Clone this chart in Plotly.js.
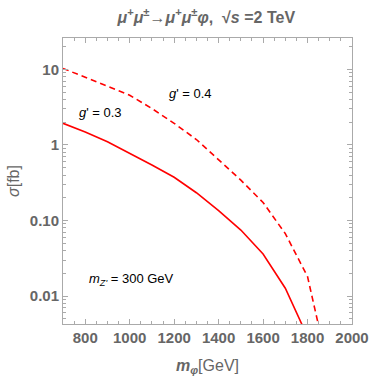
<!DOCTYPE html>
<html>
<head>
<meta charset="utf-8">
<script src="https://cdn.plot.ly/plotly-3.0.1.min.js"></script>
<style>
  html, body { margin: 0; padding: 0; background: #fff; }
  #chart { width: 382px; height: 377px; }
</style>
</head>
<body>
<div id="chart"></div>
<script>
// m_phi in GeV, sigma in fb
const massGeV = [700, 800, 900, 1000, 1100, 1200, 1300, 1400, 1500, 1600, 1700, 1800];
const sigmaG03 = [1.93, 1.48, 1.10, 0.774, 0.542, 0.373, 0.233, 0.135, 0.0748, 0.036, 0.0127, 0.0029];
const massDashed = [700, 800, 900, 1000, 1100, 1200, 1300, 1400, 1500, 1600, 1700, 1800, 1900];
const sigmaG04 = [10.3, 7.9, 6.07, 4.55, 3.03, 1.93, 1.18, 0.64, 0.342, 0.173, 0.067, 0.0181, 0.0009];

const yTickVals = [10, 1, 0.1, 0.01];
const yTickText = ['10', '1', '0.10', '0.01'];

// minor log ticks: 2..9 in every decade
const yMinorVals = [];
[0.001, 0.01, 0.1, 1, 10].forEach(function (d) {
    for (let k = 2; k <= 9; k++) yMinorVals.push(d * k);
});

const gray = '#666';
const axisGray = '#aaa';
const fontFam = 'Liberation Sans, Arial, sans-serif';

const traceG03 = {
    x: massGeV,
    y: sigmaG03,
    type: 'scatter',
    mode: 'lines',
    line: { color: '#ff0000', width: 1.6 },
    showlegend: false
};

const traceG04 = {
    x: massDashed,
    y: sigmaG04,
    type: 'scatter',
    mode: 'lines',
    line: { color: '#ff0000', width: 1.6, dash: '6px,4px' },
    showlegend: false
};

const layout = {
    width: 382,
    height: 377,
    margin: { l: 63, r: 30, t: 38, b: 53 },
    paper_bgcolor: '#fff',
    plot_bgcolor: '#fff',
    font: { family: fontFam, color: gray },
    title: {
        text: '<b><i>μ</i><sup>+</sup><i>μ</i><sup>±</sup>→<i>μ</i><sup>+</sup><i>μ</i><sup>±</sup><i>φ</i>,  √<i>s</i> =2 TeV</b>',
        font: { size: 16, color: gray },
        x: 0.54, xanchor: 'center',
        y: 0.955, yanchor: 'middle'
    },
    xaxis: {
        range: [700, 2000],
        tickvals: [800, 1000, 1200, 1400, 1600, 1800, 2000],
        ticks: 'inside', ticklen: 5, tickcolor: axisGray,
        minor: { tickmode: 'linear', tick0: 700, dtick: 50, ticks: 'inside', ticklen: 3, tickcolor: axisGray, showgrid: false },
        showline: true, linecolor: axisGray, linewidth: 1, mirror: 'ticks',
        showgrid: false, zeroline: false,
        tickfont: { size: 15, color: gray, family: fontFam, weight: 'bold' },
        title: { text: '<b><i>m</i><sub><i>φ</i></sub></b>[GeV]', font: { size: 16, color: gray }, standoff: 14 }
    },
    yaxis: {
        type: 'log',
        range: [Math.log10(0.00427), Math.log10(26)],
        tickvals: yTickVals,
        ticktext: yTickText,
        ticks: 'inside', ticklen: 5, tickcolor: axisGray,
        minor: { tickmode: 'array', tickvals: yMinorVals, ticks: 'inside', ticklen: 3, tickcolor: axisGray, showgrid: false },
        showline: true, linecolor: axisGray, linewidth: 1, mirror: 'ticks',
        showgrid: false, zeroline: false,
        tickfont: { size: 15, color: gray, family: fontFam, weight: 'bold' },
        title: { text: '<i>σ</i>[fb]', font: { size: 16, color: gray }, standoff: 6 }
    },
    annotations: [
        { x: 1275, y: Math.log10(4.8), xref: 'x', yref: 'y', text: "<i>g</i>' = 0.4", showarrow: false,
          font: { size: 13, color: '#000' } },
        { x: 870, y: Math.log10(2.7), xref: 'x', yref: 'y', text: "<i>g</i>' = 0.3", showarrow: false,
          font: { size: 13, color: '#000' } },
        { x: 1010, y: Math.log10(0.0165), xref: 'x', yref: 'y', text: "<i>m</i><sub><i>Z'</i></sub> = 300 GeV", showarrow: false,
          font: { size: 13, color: '#000' } }
    ]
};

Plotly.newPlot('chart', [traceG03, traceG04], layout, { displayModeBar: false, staticPlot: true });
</script>
</body>
</html>
